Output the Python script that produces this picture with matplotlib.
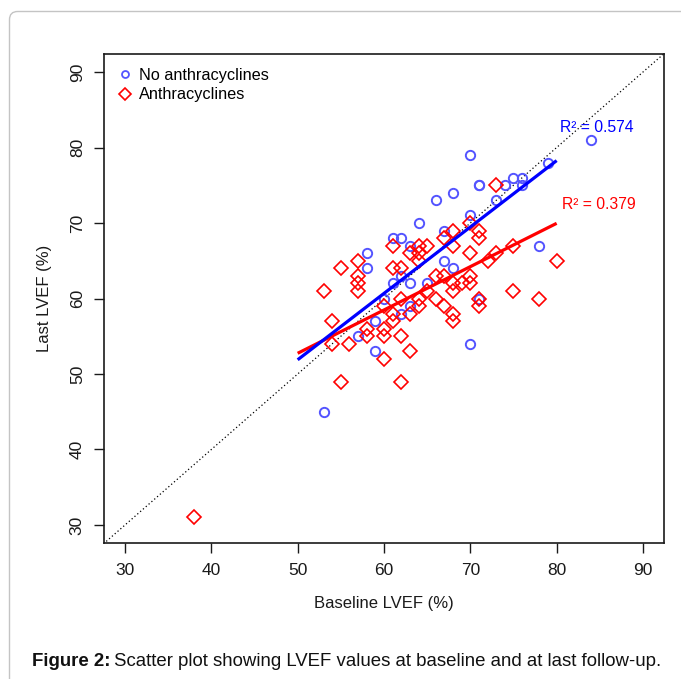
import numpy as np
import matplotlib
matplotlib.use("Agg")
import matplotlib.pyplot as plt
from matplotlib.lines import Line2D
from matplotlib.patches import FancyBboxPatch

plt.rcParams['font.family'] = ['Liberation Sans', 'DejaVu Sans']

# ---- data ----
no_anthra_base = [53, 59, 57, 59, 62, 63, 60, 70, 71, 61, 63, 65, 62, 58, 58, 67, 68,
                  61, 62, 63, 64, 67, 70, 66, 68, 71, 71, 73, 74, 75, 76, 76, 79, 70, 84, 78]
no_anthra_last = [45, 53, 55, 57, 58, 59, 60, 54, 60, 62, 62, 62, 63, 64, 66, 65, 64,
                  68, 68, 67, 70, 69, 71, 73, 74, 75, 75, 73, 75, 76, 76, 75, 78, 79, 81, 67]

anthra_base = [38, 55, 62, 60, 63, 54, 56, 58, 60, 62, 58, 60, 54, 61, 68, 61, 63, 68,
               60, 64, 67, 71, 62, 64, 66, 71, 78, 53, 57, 65, 68, 75, 57, 68, 69, 70,
               57, 66, 67, 70, 55, 61, 62, 57, 64, 72, 80, 63, 64, 70, 73, 61, 64, 65,
               68, 75, 67, 71, 68, 71, 70, 73]
anthra_last = [31, 49, 49, 52, 53, 54, 54, 55, 55, 55, 56, 56, 57, 57, 57, 58, 58, 58,
               59, 59, 59, 59, 60, 60, 60, 60, 60, 61, 61, 61, 61, 61, 62, 62, 62, 62,
               63, 63, 63, 63, 64, 64, 64, 65, 65, 65, 65, 66, 66, 66, 66, 67, 67, 67,
               67, 67, 68, 68, 69, 69, 70, 75]

r2_labels = ["R\u00b2 = 0.574", "R\u00b2 = 0.379"]
series_names = ["No anthracyclines", "Anthracyclines"]
axis_ticks = [30, 40, 50, 60, 70, 80, 90]
fit_range = [50, 80]

BLUE_PT = (0.33, 0.33, 1.0)
BLUE_LN = (0.0, 0.0, 1.0)
RED = (1.0, 0.0, 0.0)
INK = "#1a1a1a"

W, H = 681, 679
fig = plt.figure(figsize=(W / 100, H / 100), dpi=100)

# outer rounded frame
frame = FancyBboxPatch((9.5 / W, -0.2), 1.2, 1.2 - 11.5 / H,
                       boxstyle="round,pad=0,rounding_size=0.012",
                       transform=fig.transFigure, fill=False,
                       edgecolor="#c4c4c4", linewidth=1.0)
fig.patches.append(frame)

L, R, T, B = 104.3, 663.7, 53.9, 543.1
ax = fig.add_axes([L / W, (H - B) / H, (R - L) / W, (B - T) / H])
ax.set_xlim(27.6, 92.4)
ax.set_ylim(27.6, 92.4)

# identity line
ax.plot([0, 100], [0, 100], linestyle=(0, (1, 2)), color="black", linewidth=0.9, zorder=1)

ax.plot(no_anthra_base, no_anthra_last, linestyle="none", marker="o", markersize=6.7,
        markerfacecolor="none", markeredgecolor=BLUE_PT, markeredgewidth=1.4, zorder=3)
ax.plot(anthra_base, anthra_last, linestyle="none", marker="D", markersize=7.5,
        markerfacecolor="none", markeredgecolor=RED, markeredgewidth=1.2, zorder=3)

# regression lines
xs = np.array(fit_range, dtype=float)
for bx, by, col in [(anthra_base, anthra_last, RED), (no_anthra_base, no_anthra_last, BLUE_LN)]:
    k, c = np.polyfit(bx, by, 1)
    ax.plot(xs, k * xs + c, color=col, linewidth=2.3, zorder=4, solid_capstyle="butt")

ax.text(80.4, 82.6, r2_labels[0], color=BLUE_LN, fontsize=11.3, va="center", ha="left", zorder=5)
ax.text(80.6, 72.5, r2_labels[1], color=RED, fontsize=11.3, va="center", ha="left", zorder=5)

ax.set_xticks(axis_ticks)
ax.set_yticks(axis_ticks)
ax.tick_params(direction="out", length=7, width=1.0, labelsize=12.5, pad=7, colors=INK)
for lab in ax.get_yticklabels():
    lab.set_rotation(90)
    lab.set_va("center")
for s in ax.spines.values():
    s.set_linewidth(1.2)
    s.set_color(INK)

ax.set_xlabel("Baseline LVEF (%)", fontsize=12, labelpad=13, color=INK)
ax.set_ylabel("Last LVEF (%)", fontsize=12, labelpad=13, color=INK)

handles = [Line2D([], [], linestyle="none", marker="o", markersize=5.0, markerfacecolor="none",
                  markeredgecolor=BLUE_PT, markeredgewidth=1.3),
           Line2D([], [], linestyle="none", marker="D", markersize=5.8, markerfacecolor="none",
                  markeredgecolor=RED, markeredgewidth=1.2)]
ax.legend(handles, series_names, loc="upper left", frameon=False, fontsize=11.7,
          handlelength=0.8, handletextpad=0.5, borderaxespad=0.55, labelspacing=0.28,
          borderpad=0.3)

# caption
fig.canvas.draw()
rend = fig.canvas.get_renderer()
t1 = fig.text(32 / W, 1 - 661 / H, "Figure 2:", fontsize=13.4, fontweight="bold",
              va="center", ha="left", color="#111111")
bb = t1.get_window_extent(renderer=rend)
fig.text((bb.x1 + 4) / W, 1 - 661 / H,
         "Scatter plot showing LVEF values at baseline and at last follow-up.",
         fontsize=13.4, va="center", ha="left", color="#111111")

fig.savefig("out.png", dpi=100)
